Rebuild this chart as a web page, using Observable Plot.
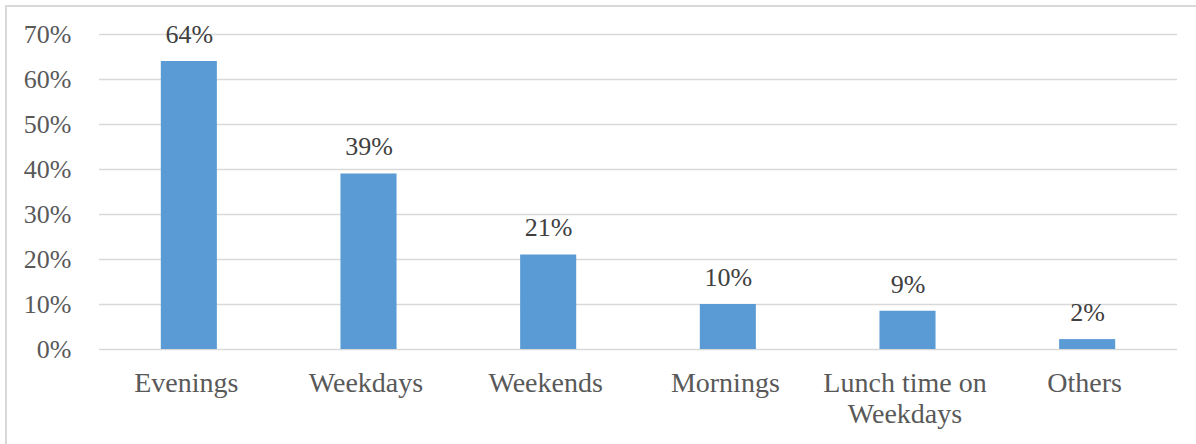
<!DOCTYPE html>
<html>
<head>
<meta charset="utf-8">
<script src="https://cdn.jsdelivr.net/npm/d3@7"></script>
<script src="https://cdn.jsdelivr.net/npm/@observablehq/plot@0.6"></script>
<style>
  html, body { margin: 0; padding: 0; background: #fff; }
  #wrap { position: relative; width: 1196px; height: 444px; overflow: hidden; }
  #border { position: absolute; left: 5px; top: 5px; right: -10px; bottom: -10px;
            border-left: 2px solid #d9d9d9; border-top: 2px solid #d9d9d9; pointer-events: none; }
  #chart { position: absolute; left: 0; top: 0; }
</style>
</head>
<body>
<div id="wrap"><div id="chart"></div><div id="border"></div></div>
<script>
const categories = ["Evenings", "Weekdays", "Weekends", "Mornings", "Lunch time on\nWeekdays", "Others"];
const values = [64, 39, 21, 10, 8.5, 2.2];
const valueLabels = ["64%", "39%", "21%", "10%", "9%", "2%"];
const yTicks = [0, 10, 20, 30, 40, 50, 60, 70];

const data = categories.map((c, i) => ({category: c, value: values[i], label: valueLabels[i]}));

const font = "'Liberation Serif', 'Times New Roman', serif";
const plot = Plot.plot({
  width: 1196,
  height: 444,
  marginLeft: 99,
  marginRight: 19,
  marginTop: 34,
  marginBottom: 95,
  style: {fontFamily: font, fontSize: "26px", color: "#595959", background: "transparent"},
  x: {domain: categories, paddingInner: 0.688, paddingOuter: 0.344, round: false, label: null},
  y: {domain: [0, 70], label: null},
  marks: [
    Plot.gridY(yTicks, {stroke: "#d9d9d9", strokeOpacity: 1, strokeWidth: 1.4}),
    Plot.barY(data, {x: "category", y: "value", fill: "#5b9bd5"}),
    Plot.text(data, {x: "category", y: "value", text: "label", dy: -27, fill: "#404040", fontSize: 26, fontFamily: font}),
    Plot.axisY(yTicks, {tickSize: 0, tickPadding: 28, tickFormat: d => d + "%", fill: "#595959", fontSize: 26, fontFamily: font}),
    Plot.axisX({tickSize: 0, tickPadding: 20, dx: -3, fill: "#595959", fontSize: 28, fontFamily: font, lineHeight: 1.11})
  ]
});
document.getElementById("chart").appendChild(plot);
</script>
</body>
</html>
